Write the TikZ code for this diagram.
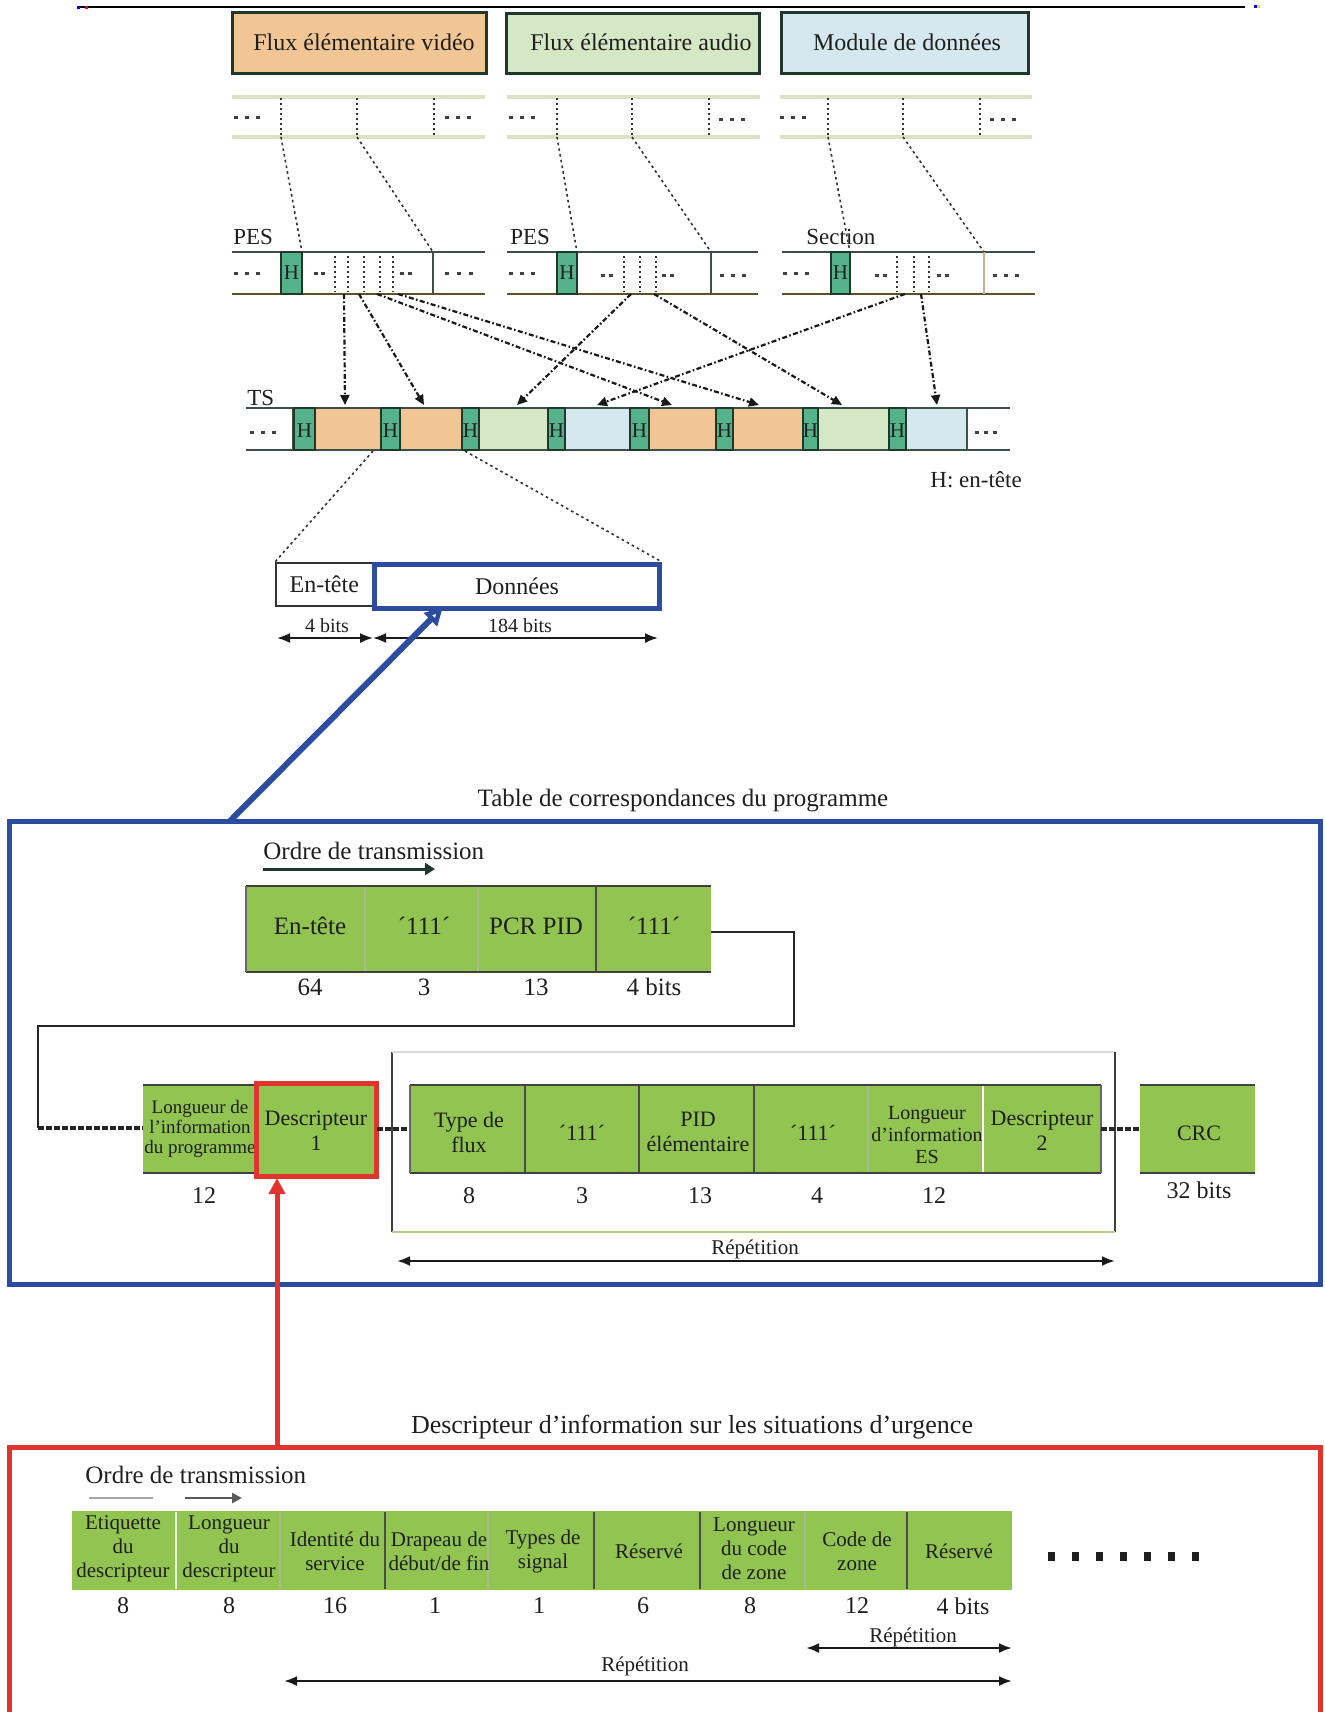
\documentclass[tikz,border=0pt]{standalone}
\usepackage{fontspec}
\setmainfont{Liberation Serif}
\usetikzlibrary{arrows.meta}
\definecolor{peach}{RGB}{241,198,148}
\definecolor{lgreen}{RGB}{212,232,198}
\definecolor{lblue}{RGB}{213,232,237}
\definecolor{hteal}{RGB}{86,178,138}
\definecolor{dkgreen}{RGB}{32,56,44}
\definecolor{pblue}{RGB}{44,76,160}
\definecolor{pred}{RGB}{226,52,46}
\definecolor{tgreen}{RGB}{146,196,82}
\definecolor{stripc}{RGB}{222,226,196}
\definecolor{pestop}{RGB}{60,80,72}
\definecolor{pesbot}{RGB}{95,80,40}
\definecolor{faintc}{RGB}{175,205,145}
\definecolor{tanc}{RGB}{205,175,145}
\newcommand{\sqdots}[4]{\foreach \k in {1,...,#3}{\fill[black!75] ({#1+(\k-1)*#4-2},{#2-1.5}) rectangle ++(4,3);}}
\begin{document}
\begin{tikzpicture}[x=0.5pt,y=-0.5pt,
  txt/.style={inner sep=0pt, align=center, text=black!88},
  fA/.style={font=\fontsize{12}{14}\selectfont},
  fB/.style={font=\fontsize{11.5}{13}\selectfont},
  fH/.style={font=\fontsize{10.5}{12}\selectfont},
  fC/.style={font=\fontsize{12.5}{14}\selectfont},
  fT/.style={font=\fontsize{13}{15}\selectfont},
  fD/.style={font=\fontsize{10}{12}\selectfont},
  fE/.style={font=\fontsize{11}{12.5}\selectfont},
  fL/.style={font=\fontsize{9.5}{10}\selectfont},
  fS/.style={font=\fontsize{10}{11}\selectfont},
  fG/.style={font=\fontsize{10.5}{12}\selectfont},
  fN/.style={font=\fontsize{12}{14}\selectfont},
  topbox/.style={draw=dkgreen, line width=1.5pt},
  stripline/.style={stripc, line width=2pt},
  vdot/.style={black!80, line width=0.7pt, dash pattern=on 1.2pt off 1.3pt},
  hbox/.style={fill=hteal, draw=dkgreen, line width=0.8pt},
  feed/.style={black!80, line width=0.8pt, dash pattern=on 1.3pt off 1.6pt},
  mux/.style={black!90, line width=1.1pt, dash pattern=on 2.5pt off 1.2pt on 0.8pt off 1.2pt, -{Triangle[length=5pt,width=4.5pt]}},
  dim/.style={black!90, line width=0.9pt, {Latex[length=6.5pt,width=5pt]}-{Latex[length=6.5pt,width=5pt]}},
  edge/.style={black!75, line width=1.3pt},
  darkdiv/.style={black!70, line width=0.8pt},
  faintdiv/.style={faintc!80!gray, line width=0.6pt},
  conn/.style={black!85, line width=1.2pt},
  heavydash/.style={black!85, line width=1.6pt, dash pattern=on 3pt off 1pt}
]
\useasboundingbox (0,0) rectangle (1325,1712);

% top rule
\draw[line width=1.3pt] (77,7) -- (1245,7);
\fill[blue] (77,6) rectangle (80,9); \fill[red] (85,6) rectangle (88,9);
\fill[blue] (1254,5) rectangle (1257,8); \fill[yellow!80!orange] (1257,5) rectangle (1260,8);

% elementary streams
\draw[topbox, fill=peach] (232,13) rectangle (486,74);
\node[txt,fA] (vid) at (364,42) {Flux élémentaire vidéo};
\draw[topbox, fill=lgreen] (506,14) rectangle (759,74);
\node[txt,fA] (aud) at (641,42) {Flux élémentaire audio};
\draw[topbox, fill=lblue] (781,13) rectangle (1028,74);
\node[txt,fA] (dat) at (907,42) {Module de données};

% stream strips
\foreach \a/\b in {232/485, 507/760, 780/1032}{
  \draw[stripline] (\a,97) -- (\b,97);
  \draw[stripline] (\a,137) -- (\b,137);
}
\foreach \x in {281,357,434,557,632,709,828,903,980} \draw[vdot] (\x,98) -- (\x,136);
\sqdots{236}{118}{3}{11} \sqdots{447}{118}{3}{11}
\sqdots{511}{118}{3}{11} \sqdots{721}{120}{3}{11}
\sqdots{782}{118}{3}{11} \sqdots{992}{120}{3}{11}

% PES rows
\foreach \a/\b in {232/485, 507/758, 782/1035}{
  \draw[pestop, line width=1.1pt] (\a,252) -- (\b,252);
  \draw[pesbot, line width=1.1pt] (\a,294) -- (\b,294);
}
\draw[hbox] (281,252) rectangle (302,294); \node[txt,fH] (ph1) at (291.5,273) {H};
\draw[hbox] (557,252) rectangle (577,294); \node[txt,fH] (ph2) at (567,273) {H};
\draw[hbox] (831,252) rectangle (850,294); \node[txt,fH] (ph3) at (840.5,273) {H};
\draw[pestop, line width=1pt] (433,252) -- (433,294);
\draw[pestop, line width=1pt] (711,252) -- (711,294);
\draw[tanc, line width=1.2pt] (984,252) -- (984,294);
\foreach \x in {335,348,364,380,393,624,640,656,897,914,929} \draw[vdot] (\x,256) -- (\x,292);
\sqdots{236}{273}{3}{11} \sqdots{316}{273}{2}{7} \sqdots{402}{273}{2}{8} \sqdots{447}{273}{3}{12}
\sqdots{511}{273}{3}{11} \sqdots{603}{275}{2}{8} \sqdots{664}{275}{2}{8} \sqdots{722}{275}{3}{11}
\sqdots{785}{273}{3}{11} \sqdots{877}{275}{2}{8} \sqdots{939}{275}{2}{8} \sqdots{995}{275}{3}{11}
\node[txt,fB,anchor=base west] (pes1) at (233,245) {PES};
\node[txt,fB,anchor=base west] (pes2) at (510,245) {PES};
\node[txt,fB,anchor=base west] (sec) at (806,245) {Section};

% strip -> PES connectors
\coordinate (sa1) at (281,137); \coordinate (pa1) at (302,252);
\coordinate (sb1) at (357,137); \coordinate (pb1) at (433,252);
\coordinate (sa2) at (557,137); \coordinate (pa2) at (577,252);
\coordinate (sb2) at (632,137); \coordinate (pb2) at (711,252);
\coordinate (sa3) at (828,137); \coordinate (pa3) at (850,252);
\coordinate (sb3) at (903,137); \coordinate (pb3) at (984,252);
\foreach \i in {1,2,3}{
  \draw[feed] (sa\i) -- (pa\i);
  \draw[feed] (sb\i) -- (pb\i);
}

% TS row
\foreach \a/\b/\c in {315/381/peach, 400/462/peach, 479/548/lgreen, 565/630/lblue, 649/716/peach, 733/803/peach, 818/889/lgreen, 906/967/lblue}
  \fill[\c] (\a,409) rectangle (\b,449);
\draw[pestop, line width=1.2pt] (246,408) -- (1010,408);
\draw[pestop, line width=1.2pt] (246,450) -- (1010,450);
\draw[pestop, line width=1pt] (293,408) -- (293,450);
\draw[pestop, line width=1pt] (967,408) -- (967,450);
\foreach \a/\b [count=\i] in {294/315, 381/400, 462/479, 548/565, 630/649, 716/733, 803/818, 889/906}{
  \draw[hbox] (\a,408) rectangle (\b,450);
  \node[txt,fH] (th\i) at ({(\a+\b)/2},431) {H};
}
\sqdots{252}{432}{3}{11} \sqdots{977}{432}{3}{9}
\node[txt,fB,anchor=base west] (ts) at (247,405) {TS};
\node[txt,fB,anchor=west] (hleg) at (930,480) {H: en-tête};

% PES -> TS
\coordinate (o1) at (344,294); \coordinate (e1) at (345,405);
\coordinate (o2) at (359,294); \coordinate (e2) at (424,405);
\coordinate (o3) at (631,294); \coordinate (e3) at (517,405);
\coordinate (o4) at (905,294); \coordinate (e4) at (597,405);
\coordinate (o5) at (377,294); \coordinate (e5) at (672,405);
\coordinate (o6) at (398,294); \coordinate (e6) at (759,405);
\coordinate (o7) at (654,294); \coordinate (e7) at (842,405);
\coordinate (o8) at (921,294); \coordinate (e8) at (937,405);
\foreach \i in {1,...,8} \draw[mux] (o\i) -- (e\i);

% packet
\node[draw=black!80, line width=0.8pt, minimum width=48.5pt, minimum height=21.5pt, inner sep=0pt, anchor=north west, txt, fA] (ent) at (275,562) {En-tête};
\node[draw=pblue, line width=2.5pt, minimum width=142.5pt, minimum height=22pt, inner sep=0pt, anchor=north west, txt, fA] (don) at (372,562) {Données};
\coordinate (tsA) at (373,451); \coordinate (tsB) at (465,451);
\draw[feed] (tsA) -- (ent.north west);
\draw[feed] (tsB) -- (don.north east);
\coordinate (w1) at (277,638); \coordinate (w2) at (373,638); \coordinate (w3) at (658,638);
\draw[dim] (w1) -- (w2);
\draw[dim] (w2) -- (w3);
\node[txt,fD] (b4) at (327,626) {4 bits};
\node[txt,fD] (b184) at (520,626) {184 bits};

% blue link
\coordinate (bA) at (229,822); \coordinate (bB) at (443,607);
\draw[pblue, line width=3pt, -{Triangle[open,length=9pt,width=9pt,fill=white]}] (bA) -- (bB);

% PMT
\node[txt,fC] (ttl1) at (683,801) {Table de correspondances du programme};
\draw[pblue, line width=2.5pt] (9,821) rectangle (1320,1284);
\node[txt,fC,anchor=west] (ord1) at (263,851) {Ordre de transmission};
\coordinate (oa1) at (263,869); \coordinate (oa2) at (435,869);
\draw[dkgreen, line width=1.5pt, -{Triangle[length=5pt,width=6pt]}] (oa1) -- (oa2);

\fill[tgreen] (246,886) rectangle (711,972);
\draw[edge] (246,886) -- (711,886);
\draw[edge] (246,972) -- (711,972);
\draw[black!60, line width=0.6pt] (246,886) -- (246,972);
\draw[faintdiv] (365,887) -- (365,971);
\draw[faintdiv] (478,887) -- (478,971);
\draw[darkdiv] (596,887) -- (596,971);
\node[txt,fC] (p1) at (310,926) {En-tête};
\node[txt,fC] (p2) at (424,926) {´111´};
\node[txt,fC] (p3) at (536,926) {PCR PID};
\node[txt,fC] (p4) at (654,926) {´111´};
\node[txt,fC] (n1) at (310,987) {64};
\node[txt,fC] (n2) at (424,987) {3};
\node[txt,fC] (n3) at (536,987) {13};
\node[txt,fC] (n4) at (654,987) {4 bits};

\coordinate (t1r) at (711,932);
\coordinate (bA1) at (794,1026);
\coordinate (bB1) at (38,1026);
\coordinate (lpL) at (143,1128);
\draw[conn] (t1r) -| (bA1) -- (bB1) -- (bB1 |- lpL);
\draw[heavydash] (bB1 |- lpL) -- (lpL);

% second row of PMT
\draw[black!75, line width=0.9pt] (392,1232) -- (392,1052);
\draw[black!15, line width=0.8pt] (392,1052) -- (1115,1052);
\draw[black!75, line width=0.9pt] (1115,1052) -- (1115,1232);
\draw[faintc, line width=1pt] (392,1232) -- (1115,1232);

\fill[tgreen] (143,1085) rectangle (257,1173);
\draw[edge] (143,1085) -- (257,1085);
\draw[edge] (143,1173) -- (257,1173);
\node[txt,fL] (lpi) at (200,1129) {Longueur de\\l’information\\du programme};
\draw[pred, line width=2.5pt, fill=tgreen] (256,1083) rectangle (376,1176);
\node[txt,fE] (d1) at (316,1131) {Descripteur\\1};
\coordinate (d1r) at (377,1129); \coordinate (g1l) at (410,1129);
\draw[heavydash] (d1r) -- (g1l);

\fill[tgreen] (410,1085) rectangle (1101,1173);
\draw[edge] (410,1085) -- (1101,1085);
\draw[edge] (410,1173) -- (1101,1173);
\draw[black!60, line width=0.6pt] (410,1085) -- (410,1173);
\draw[black!60, line width=0.6pt] (1101,1085) -- (1101,1173);
\foreach \x in {525,639,754} \draw[darkdiv] (\x,1086) -- (\x,1172);
\draw[faintdiv] (868,1086) -- (868,1172);
\draw[white, line width=1.2pt] (983,1086) -- (983,1172);
\node[txt,fE] (g1) at (469,1132) {Type de\\flux};
\node[txt,fE] (g2) at (582,1133) {´111´};
\node[txt,fE] (g3) at (698,1132) {PID\\élémentaire};
\node[txt,fE] (g4) at (813,1133) {´111´};
\node[txt,fS] (g5) at (927,1135) {Longueur\\d’information\\ES};
\node[txt,fE] (g6) at (1042,1131) {Descripteur\\2};
\coordinate (g6r) at (1101,1129); \coordinate (crcl) at (1140,1129);
\draw[heavydash] (g6r) -- (crcl);
\fill[tgreen] (1140,1085) rectangle (1255,1173);
\draw[edge] (1140,1085) -- (1255,1085);
\draw[edge] (1140,1173) -- (1255,1173);
\node[txt,fE] (crc) at (1199,1133) {CRC};
\node[txt,fN] (m0) at (204,1196) {12};
\node[txt,fN] (m1) at (469,1196) {8};
\node[txt,fN] (m2) at (582,1196) {3};
\node[txt,fN] (m3) at (700,1196) {13};
\node[txt,fN] (m4) at (817,1196) {4};
\node[txt,fN] (m5) at (934,1196) {12};
\node[txt,fN] (m6) at (1199,1190) {32 bits};
\node[txt,fG] (rep1) at (755,1249) {Répétition};
\coordinate (ra1) at (397,1261); \coordinate (ra2) at (1115,1261);
\draw[dim, line width=1.2pt] (ra1) -- (ra2);

% red link
\coordinate (rA) at (277,1447); \coordinate (rB) at (277,1178);
\draw[pred, line width=2.5pt, -{Triangle[length=8pt,width=8pt]}] (rA) -- (rB);

% emergency descriptor
\node[txt,fT] (ttl2) at (692,1427) {Descripteur d’information sur les situations d’urgence};
\draw[pred, line width=2.5pt] (9,1447) rectangle (1320,1740);
\node[txt,fC,anchor=west] (ord2) at (85,1475) {Ordre de transmission};
\coordinate (ob1) at (89,1498); \coordinate (ob2) at (153,1498);
\coordinate (ob3) at (185,1498); \coordinate (ob4) at (242,1498);
\draw[black!35, line width=1.3pt] (ob1) -- (ob2);
\draw[black!65, line width=1.3pt, -{Triangle[length=5pt,width=5pt]}] (ob3) -- (ob4);

\fill[tgreen] (72,1511) rectangle (1012,1590);
\draw[white!80!tgreen, line width=1pt] (176,1512) -- (176,1589);
\foreach \x in {280,488,805} \draw[faintdiv] (\x,1512) -- (\x,1589);
\foreach \x in {385,594,700,907} \draw[darkdiv] (\x,1512) -- (\x,1589);
\node[txt,fG] (e1t) at (123,1549) {Etiquette\\du\\descripteur};
\node[txt,fG] (e2t) at (229,1549) {Longueur\\du\\descripteur};
\node[txt,fG] (e3t) at (335,1551) {Identité du\\service};
\node[txt,fG] (e4t) at (439,1551) {Drapeau de\\début/de fin};
\node[txt,fG] (e5t) at (543,1551) {Types de\\signal};
\node[txt,fG] (e6t) at (649,1551) {Réservé};
\node[txt,fG] (e7t) at (754,1549) {Longueur\\du code\\de zone};
\node[txt,fG] (e8t) at (857,1551) {Code de\\zone};
\node[txt,fG] (e9t) at (959,1551) {Réservé};
\node[txt,fN] (k1) at (123,1606) {8};
\node[txt,fN] (k2) at (229,1606) {8};
\node[txt,fN] (k3) at (335,1606) {16};
\node[txt,fN] (k4) at (435,1606) {1};
\node[txt,fN] (k5) at (539,1606) {1};
\node[txt,fN] (k6) at (643,1606) {6};
\node[txt,fN] (k7) at (750,1606) {8};
\node[txt,fN] (k8) at (857,1606) {12};
\node[txt,fN] (k9) at (963,1606) {4 bits};
\foreach \x in {1048,1072,1096,1120,1144,1168,1192} \fill[black!88] (\x,1552) rectangle ++(7,9);
\node[txt,fG] (rep2) at (913,1637) {Répétition};
\coordinate (rb1) at (806,1648); \coordinate (rb2) at (1012,1648);
\draw[dim, line width=1.2pt] (rb1) -- (rb2);
\node[txt,fG] (rep3) at (645,1666) {Répétition};
\coordinate (rc1) at (284,1681); \coordinate (rc2) at (1012,1681);
\draw[dim, line width=1.2pt] (rc1) -- (rc2);
\end{tikzpicture}
\end{document}
